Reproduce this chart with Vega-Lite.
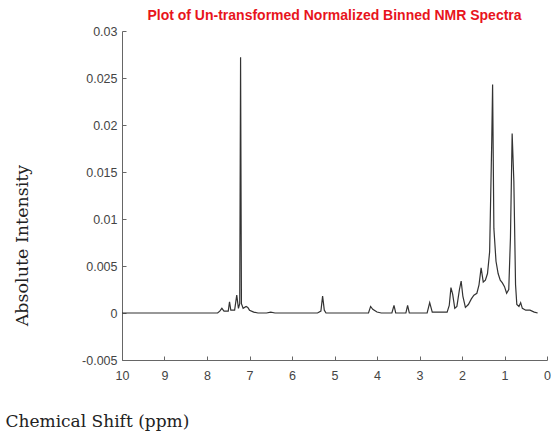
{
  "$schema": "https://vega.github.io/schema/vega-lite/v6.json",
  "width": 425,
  "height": 329,
  "autosize": "none",
  "padding": {"left": 122, "top": 31, "right": 4, "bottom": 85},
  "background": "white",
  "title": {
    "text": "Plot of Un-transformed Normalized Binned NMR Spectra",
    "color": "#e8141c",
    "font": "Liberation Sans",
    "fontSize": 14,
    "fontWeight": "bold",
    "anchor": "middle",
    "dx": 0,
    "offset": 2
  },
  "config": {
    "view": {"stroke": null},
    "axis": {"grid": false}
  },
  "data": {
    "values": [
      {"ppm": 10, "intensity": 0},
      {"ppm": 9, "intensity": 0},
      {"ppm": 8, "intensity": 0},
      {"ppm": 7.75, "intensity": 0},
      {"ppm": 7.7, "intensity": 0.0002},
      {"ppm": 7.65, "intensity": 0.0005},
      {"ppm": 7.6, "intensity": 0.0002},
      {"ppm": 7.5, "intensity": 0.0002},
      {"ppm": 7.47, "intensity": 0.0012},
      {"ppm": 7.44, "intensity": 0.0003},
      {"ppm": 7.35, "intensity": 0.0003},
      {"ppm": 7.3, "intensity": 0.0019},
      {"ppm": 7.26, "intensity": 0.0005},
      {"ppm": 7.23, "intensity": 0.001},
      {"ppm": 7.21, "intensity": 0.0272},
      {"ppm": 7.19, "intensity": 0.001},
      {"ppm": 7.15, "intensity": 0.0005},
      {"ppm": 7.08, "intensity": 0.0007},
      {"ppm": 7.04, "intensity": 0.0006},
      {"ppm": 7.0, "intensity": 0.0003},
      {"ppm": 6.9, "intensity": 0.0001},
      {"ppm": 6.8, "intensity": 0},
      {"ppm": 6.6, "intensity": 0},
      {"ppm": 6.5, "intensity": 0.0001},
      {"ppm": 6.4, "intensity": 0},
      {"ppm": 5.4, "intensity": 0},
      {"ppm": 5.32, "intensity": 0.0002},
      {"ppm": 5.28, "intensity": 0.0018},
      {"ppm": 5.24, "intensity": 0.0003},
      {"ppm": 5.2, "intensity": 0},
      {"ppm": 4.2, "intensity": 0},
      {"ppm": 4.15, "intensity": 0.0007},
      {"ppm": 4.1, "intensity": 0.0004},
      {"ppm": 4.0, "intensity": 0.0001},
      {"ppm": 3.9, "intensity": 0},
      {"ppm": 3.65, "intensity": 0},
      {"ppm": 3.6, "intensity": 0.0008},
      {"ppm": 3.56, "intensity": 0},
      {"ppm": 3.32, "intensity": 0},
      {"ppm": 3.28, "intensity": 0.0008},
      {"ppm": 3.24, "intensity": 0},
      {"ppm": 2.82, "intensity": 0},
      {"ppm": 2.76, "intensity": 0.0011},
      {"ppm": 2.7, "intensity": 0.0001},
      {"ppm": 2.35, "intensity": 0.0001},
      {"ppm": 2.3, "intensity": 0.0008},
      {"ppm": 2.26, "intensity": 0.0027},
      {"ppm": 2.22, "intensity": 0.002},
      {"ppm": 2.17, "intensity": 0.0005},
      {"ppm": 2.12, "intensity": 0.0007},
      {"ppm": 2.06, "intensity": 0.0025},
      {"ppm": 2.02, "intensity": 0.0034},
      {"ppm": 1.98, "intensity": 0.0018},
      {"ppm": 1.92, "intensity": 0.0006},
      {"ppm": 1.85, "intensity": 0.0009},
      {"ppm": 1.78, "intensity": 0.0015},
      {"ppm": 1.72, "intensity": 0.0019},
      {"ppm": 1.65, "intensity": 0.0021},
      {"ppm": 1.6, "intensity": 0.003},
      {"ppm": 1.55, "intensity": 0.0048},
      {"ppm": 1.5, "intensity": 0.0033},
      {"ppm": 1.45, "intensity": 0.0035},
      {"ppm": 1.4, "intensity": 0.0042},
      {"ppm": 1.35, "intensity": 0.0065},
      {"ppm": 1.3, "intensity": 0.0183},
      {"ppm": 1.28, "intensity": 0.0243},
      {"ppm": 1.25, "intensity": 0.009},
      {"ppm": 1.2, "intensity": 0.0055},
      {"ppm": 1.15, "intensity": 0.0042},
      {"ppm": 1.1, "intensity": 0.0035},
      {"ppm": 1.05, "intensity": 0.0032},
      {"ppm": 1.0, "intensity": 0.0028},
      {"ppm": 0.95, "intensity": 0.0021},
      {"ppm": 0.9, "intensity": 0.0025},
      {"ppm": 0.86, "intensity": 0.008},
      {"ppm": 0.82, "intensity": 0.0191},
      {"ppm": 0.78, "intensity": 0.014},
      {"ppm": 0.74, "intensity": 0.003},
      {"ppm": 0.71, "intensity": 0.0009},
      {"ppm": 0.66, "intensity": 0.0007},
      {"ppm": 0.62, "intensity": 0.0011},
      {"ppm": 0.58, "intensity": 0.0005},
      {"ppm": 0.5, "intensity": 0.0003},
      {"ppm": 0.4, "intensity": 0.0003},
      {"ppm": 0.3, "intensity": 0.0001},
      {"ppm": 0.22, "intensity": 0}
    ]
  },
  "mark": {"type": "line", "color": "#333333", "strokeWidth": 1.2, "clip": true},
  "encoding": {
    "x": {
      "field": "ppm",
      "type": "quantitative",
      "sort": null,
      "scale": {"domain": [0, 10], "reverse": true, "nice": false, "zero": false},
      "axis": {
        "title": "Chemical Shift (ppm)",
        "titleFont": "DejaVu Serif",
        "titleFontSize": 17,
        "titleFontWeight": "normal",
        "titleColor": "#222",
        "titleAlign": "left",
        "titleBaseline": "middle",
        "titleX": -117,
        "titleY": 61,
        "values": [0,1,2,3,4,5,6,7,8,9,10],
        "tickSize": -4,
        "tickColor": "#666",
        "domainColor": "#666",
        "labelFont": "Liberation Sans",
        "labelFontSize": 12.5,
        "labelColor": "#444",
        "labelPadding": 13,
        "labelFlush": false
      }
    },
    "y": {
      "field": "intensity",
      "type": "quantitative",
      "scale": {"domain": [-0.005, 0.03], "nice": false, "zero": false},
      "axis": {
        "title": "Absolute Intensity",
        "titleFont": "DejaVu Serif",
        "titleFontSize": 17.5,
        "titleFontWeight": "normal",
        "titleColor": "#222",
        "titleAlign": "center",
        "titleBaseline": "middle",
        "titleAngle": -90,
        "titleX": -100,
        "titleY": 214,
        "values": [-0.005, 0, 0.005, 0.01, 0.015, 0.02, 0.025, 0.03],
        "labelExpr": "'' + datum.value",
        "tickSize": -4,
        "tickColor": "#666",
        "domainColor": "#666",
        "labelFont": "Liberation Sans",
        "labelFontSize": 12.5,
        "labelColor": "#444",
        "labelPadding": 9
      }
    }
  }
}
